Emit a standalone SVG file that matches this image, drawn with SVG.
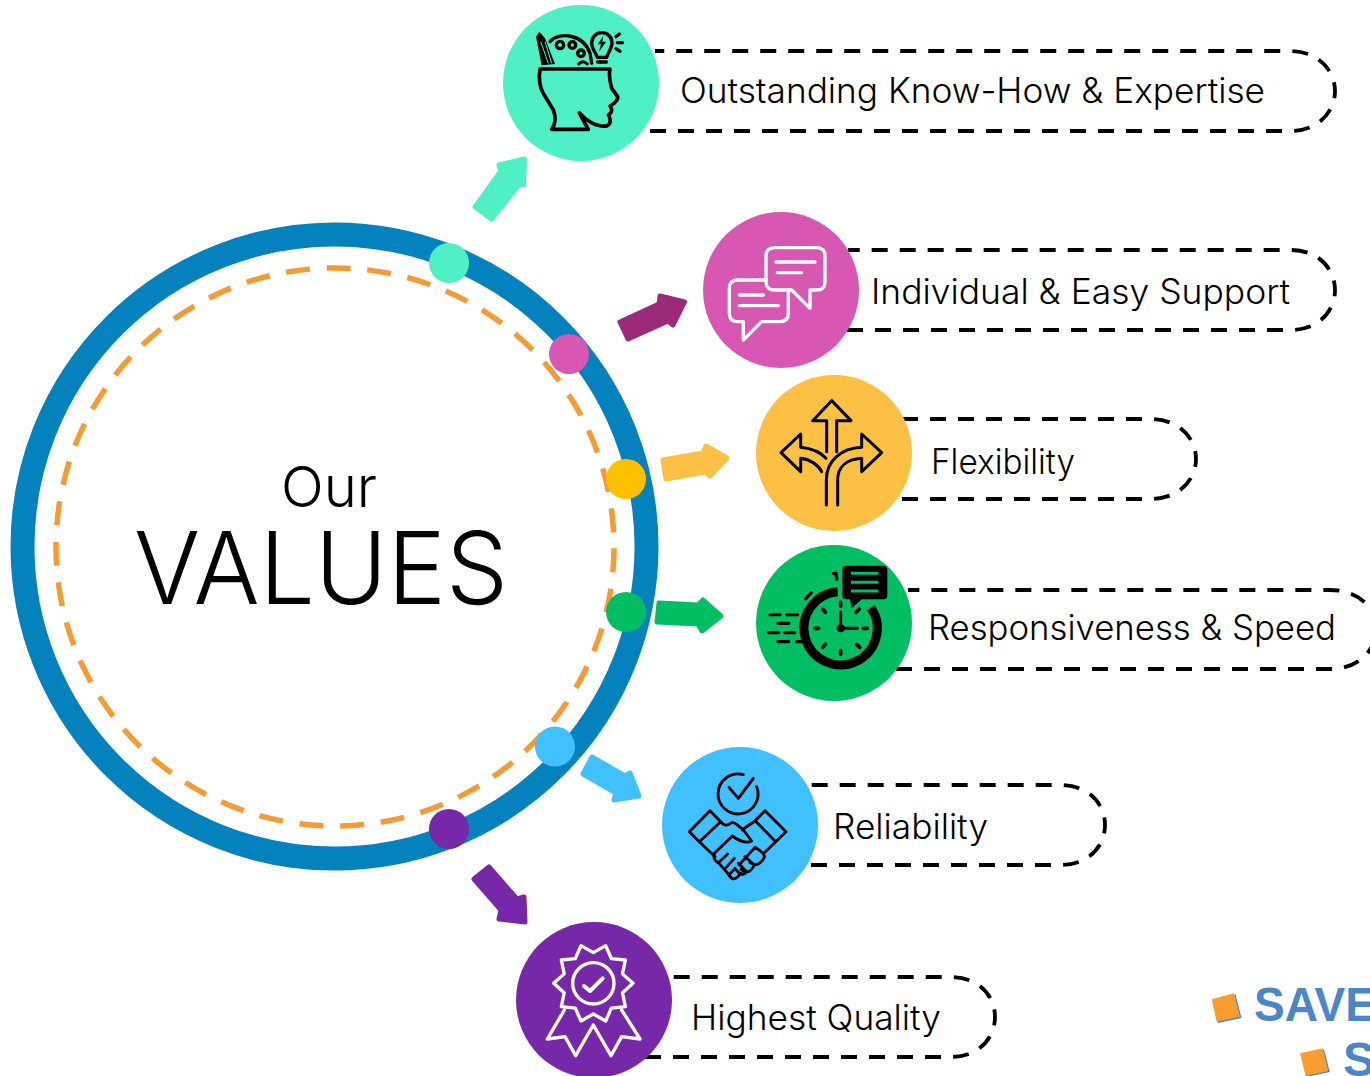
<svg xmlns="http://www.w3.org/2000/svg" width="1370" height="1076" viewBox="0 0 1370 1076">
<style>
text{font-family:"Inter","Lato","Liberation Sans",sans-serif;font-weight:300;fill:#000}
.lb{font-size:35px}
.pill{fill:none;stroke:#000;stroke-width:3.8;stroke-dasharray:16 12}
.k{fill:none;stroke:#000;stroke-linecap:round;stroke-linejoin:round}
.w{fill:none;stroke:#fff;stroke-linecap:round;stroke-linejoin:round}
.ar{stroke-width:5;stroke-linejoin:round}
</style>
<rect width="1370" height="1076" fill="#fff"/>
<g id="hub">
<circle cx="334.5" cy="546.5" r="312" fill="none" stroke="#0382BD" stroke-width="24"/>
<circle cx="335" cy="547" r="279" fill="none" stroke="#F59B36" stroke-width="5.5" stroke-dasharray="24 16.77" stroke-dashoffset="-1.2"/>
<text x="281" y="507" font-size="56" textLength="96" lengthAdjust="spacingAndGlyphs">Our</text>
<text x="134" y="604" font-size="100" textLength="374" lengthAdjust="spacingAndGlyphs">VALUES</text>
<circle cx="449" cy="263" r="20" fill="#50F0C6"/>
<circle cx="569" cy="354" r="20" fill="#D757B2"/>
<circle cx="626" cy="479" r="20" fill="#FFC000"/>
<circle cx="626" cy="612" r="20" fill="#02BE62"/>
<circle cx="555" cy="746.5" r="20" fill="#40C0FF"/>
<circle cx="449" cy="829" r="20" fill="#7728A8"/>
</g>
<g id="connectors">
<polygon class="ar" fill="#50F0C6" stroke="#50F0C6" points="475,207 491.5,219 519.5,184 523.5,185 524.5,159 499,165 501,171"/>
<polygon class="ar" fill="#9B2A7B" stroke="#9B2A7B" points="620,322 628,339 668,321 673,325 684.5,302 660,296 659,304"/>
<polygon class="ar" fill="#FCC044" stroke="#FCC044" points="663,460 666,479 705,472 710,476 727,458 706,446 703,453"/>
<polygon class="ar" fill="#02BE62" stroke="#02BE62" points="659,603 657,622 698,624 702,631 721,616 703,600 698,605"/>
<polygon class="ar" fill="#40C0FF" stroke="#40C0FF" points="592,757 583,774 616,793 614,800 639,796 630,773 625,776"/>
<polygon class="ar" fill="#7728A8" stroke="#7728A8" points="489,867 474,879 501,910 499,919 525,922 524,897 517,899"/>
</g>
<g id="node1">
<path class="pill" d="M650,131 H1290 C1320,131 1335,110 1335,91 C1335,72 1320,51 1290,51 H655"/>
<circle cx="581" cy="83" r="78" fill="#50F0C6"/>
<g transform="translate(500,0) scale(.33333)">
<path class="k" stroke-width="11" d="M120,207 H330 C325,225 330,245 335,265 L353,290 C355,298 345,310 330,318 C335,325 340,335 325,345 C332,355 335,372 320,378 C290,382 255,360 238,338 C245,355 255,370 265,388 H155 C168,370 168,350 160,330 L130,280 C118,260 115,240 120,207Z"/>
<path d="M108,110 L118,95 L135,115 L165,192 L125,196Z" fill="#000"/>
<path d="M122,125 L145,190M135,125 L155,190" stroke="#50F0C6" stroke-width="3" fill="none"/>
<path class="k" stroke-width="10" d="M150,125 C175,95 250,100 270,160 L275,190"/>
<circle cx="180" cy="135" r="11" class="k" stroke-width="10"/>
<circle cx="217" cy="135" r="10" class="k" stroke-width="10"/>
<circle cx="243" cy="160" r="10" class="k" stroke-width="10"/>
<path class="k" stroke-width="9" d="M236,192 Q248,178 262,192"/>
<path class="k" stroke-width="10" d="M292,172 C285,155 275,145 275,128 C275,110 290,98 305,98 C322,98 336,110 336,128 C336,145 325,155 320,172Z"/>
<path d="M310,108 L293,133 H303 L297,155 L318,125 H307Z" fill="#000"/>
<path class="k" stroke-width="10" d="M293,186 H319M348,110 L358,102M352,128 H367M348,146 L360,154"/>
</g>
<text class="lb" x="680" y="103" textLength="585" lengthAdjust="spacingAndGlyphs">Outstanding Know-How &amp; Expertise</text>
</g>
<g id="node2">
<path class="pill" d="M847,330 H1290 C1320,330 1335,310 1335,290 C1335,270 1320,250 1290,250 H848"/>
<circle cx="781" cy="290" r="78" fill="#D757B2"/>
<g transform="translate(700,210) scale(.33333)" class="w" stroke-width="10">
<path d="M225,113 H350 Q375,113 375,138 V215 Q375,240 350,240 H330 V295 L275,240 H225 Q198,240 198,215 V138 Q198,113 225,113Z"/>
<path d="M198,210 H113 Q88,210 88,235 V310 Q88,335 113,335 H130 V390 L185,335 H240 Q265,335 265,310 V240"/>
<path d="M228,156 H345M232,188 H305M118,255 H190M118,287 H235"/>
</g>
<text class="lb" x="871" y="304" textLength="419" lengthAdjust="spacingAndGlyphs">Individual &amp; Easy Support</text>
</g>
<g id="node3">
<path class="pill" d="M902,499 H1150 C1180,499 1196,479 1196,459 C1196,439 1180,419 1150,419 H900"/>
<circle cx="834" cy="453" r="78" fill="#FCC044"/>
<g transform="translate(750,370) scale(.33333)" class="k" stroke-width="9">
<path d="M230,245 V152 H188 L245,92 L303,152 H260 V245"/>
<path d="M228,265 C210,245 180,235 152,232 V192 L93,248 L152,305 V265 C180,268 205,285 215,305"/>
<path d="M229,405 V330 C229,270 275,235 335,232 V192 L395,248 L335,305 V265 C290,268 263,290 263,330 V405"/>
</g>
<text class="lb" x="931" y="474" textLength="144" lengthAdjust="spacingAndGlyphs">Flexibility</text>
</g>
<g id="node4">
<path class="pill" d="M896,669 H1330 C1360,669 1376,649 1376,629 C1376,609 1360,590 1330,590 H908"/>
<circle cx="834" cy="623" r="78" fill="#02BE62"/>
<g transform="translate(750,540) scale(.33333)">
<path class="k" stroke-width="27" d="M263,155 A110,110 0 1 0 363,203" style="stroke-linecap:butt"/>
<path d="M290,77 H400 Q412,77 412,89 V166 Q412,178 400,178 H335 L305,205 L300,178 H290 Q277,178 277,166 V89 Q277,77 290,77Z" fill="#000"/>
<path d="M303,100 H385M303,127 H385M303,153 H385" stroke="#02BE62" stroke-width="9" fill="none"/>
<path class="k" stroke-width="11" d="M272,187 V198M272,332 V343M195,265 H206M340,265 H352M218,208 L226,217M318,217 L328,207M218,322 L226,313M320,313 L329,322"/>
<path class="k" stroke-width="9" d="M272,215 V265 H322"/>
<circle cx="272" cy="265" r="12" fill="#000"/>
<path class="k" stroke-width="10" d="M250,100 H258 L260,118M167,176 L184,158M60,224 H90M110,224 H143M84,250 H116M55,278 H86M105,278 H134M84,305 H116M140,305 H156"/>
</g>
<text class="lb" x="928" y="640" textLength="408" lengthAdjust="spacingAndGlyphs">Responsiveness &amp; Speed</text>
</g>
<g id="node5">
<path class="pill" d="M811,865 H1060 C1090,865 1105,845 1105,825 C1105,805 1090,785 1060,785 H806"/>
<circle cx="740" cy="825" r="78" fill="#40C0FF"/>
<g transform="translate(655,740) scale(.33333)" class="k" stroke-width="8.5">
<path d="M265,104 A60,60 0 1 0 305,140"/>
<path d="M222,142 L250,175 L295,115"/>
<path d="M103,275 L165,212 L197,245 L133,305Z"/>
<path d="M393,275 L330,212 L300,242 L362,305Z"/>
<path d="M197,245 C210,262 220,255 232,247 C245,250 255,262 265,270 L290,303 C275,310 255,305 232,288 L178,340"/>
<path d="M262,270 C275,258 290,252 300,242"/>
<path d="M133,305 L180,350M362,305 L328,338"/>
<path d="M178,340 Q172,358 190,368 L218,342M190,368 L208,388 L238,355M208,388 L222,405 L240,385"/>
<path d="M222,405 Q232,425 248,410 L258,400M240,385 Q262,415 275,395 L250,370M258,388 Q282,408 298,375 L270,350M285,368 Q310,385 328,352 Q330,340 300,322 L252,375"/>
</g>
<text class="lb" x="833" y="839" textLength="155" lengthAdjust="spacingAndGlyphs">Reliability</text>
</g>
<g id="node6">
<path class="pill" d="M645,1057 H950 C980,1057 995,1037 995,1017 C995,997 980,977 950,977 H665"/>
<circle cx="594" cy="1000" r="78" fill="#7728A8"/>
<g transform="translate(510,915) scale(.33333)" class="w" stroke-width="10">
<polygon points="369,205 337.5,233.4 346,275 304,279.4 287,318 250,297 213,318 196,279.4 154,275 162.5,233.4 131,205 162.5,176.6 154,135 196,130.6 213,92 250,113 287,92 304,130.6 346,135 337.5,176.6"/>
<circle cx="250" cy="205" r="62"/>
<path d="M222,213 L240,228 L278,190" stroke-width="12"/>
<path d="M163,285 L112,372 L165,365 L197,422 L250,330 L303,422 L335,365 L390,372 L335,285"/>
</g>
<text class="lb" x="691" y="1030" textLength="250" lengthAdjust="spacingAndGlyphs">Highest Quality</text>
</g>
<g id="watermark">
<polygon points="1213,1000.5 1235.5,994.5 1241.5,1018 1218,1023" fill="#4A86C8"/>
<polygon points="1211.7,999.3 1234,993.3 1240,1016.7 1216.7,1021.7" fill="#F99D2E"/>
<polygon points="1301.5,1054.5 1324,1049.5 1329.8,1072 1307,1077" fill="#4A86C8"/>
<polygon points="1300,1053.3 1322.7,1048.3 1328.3,1071 1305.7,1076" fill="#F99D2E"/>
<text x="1254" y="1021" font-size="48" style="font-family:'Liberation Sans',sans-serif;font-weight:700;fill:#4A86C8" textLength="122" lengthAdjust="spacingAndGlyphs">SAVE</text>
<text x="1343" y="1076" font-size="48" style="font-family:'Liberation Sans',sans-serif;font-weight:700;fill:#4A86C8">S</text>
</g>
</svg>
